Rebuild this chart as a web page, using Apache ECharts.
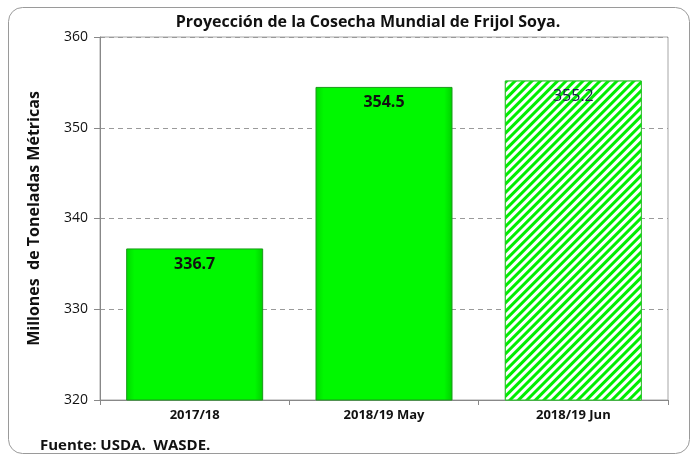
<!DOCTYPE html>
<html>
<head>
<meta charset="utf-8">
<script src="https://cdn.jsdelivr.net/npm/echarts@6/dist/echarts.min.js"></script>
<style>
  html, body { margin: 0; padding: 0; background: #fff; }
  #chart { width: 697px; height: 459px; }
</style>
</head>
<body>
<div id="chart"></div>
<script>
// datos de la cosecha (millones de toneladas)
const categorias = ['2017/18', '2018/19 May', '2018/19 Jun'];
const valores = [336.7, 354.5, 355.2];
const proyectado = [false, false, true];

const FONT = '"Open Sans", "Noto Sans", sans-serif';
const chart = echarts.init(document.getElementById('chart'));

const solido = {
  color: new echarts.graphic.LinearGradient(0, 0, 1, 0, [
    { offset: 0, color: '#00d800' },
    { offset: 0.06, color: '#00f800' },
    { offset: 0.94, color: '#00f800' },
    { offset: 1, color: '#00d000' }
  ]),
  borderColor: '#1a9a1a',
  borderWidth: 1
};
const rayado = {
  color: '#ffffff',
  borderColor: '#2fbf2f',
  borderWidth: 1,
  decal: {
    color: '#00ee00',
    backgroundColor: '#ffffff',
    symbol: 'rect',
    dashArrayX: [1, 0],
    dashArrayY: [3, 3],
    rotation: -Math.PI / 4
  }
};

chart.setOption({
  animation: false,
  title: {
    text: 'Proyección de la Cosecha Mundial de Frijol Soya.',
    left: 363, top: 9, textAlign: 'center',
    textStyle: { fontFamily: FONT, fontSize: 16, fontWeight: 'bold', color: '#111' }
  },
  graphic: [
    {
      type: 'rect',
      shape: { x: 8.5, y: 7.5, width: 681, height: 446, r: 14 },
      style: { fill: 'none', stroke: '#9a9a9a', lineWidth: 1 },
      silent: true
    },
    {
      type: 'text', left: 40, top: 438,
      style: { text: 'Fuente: USDA.  WASDE.', font: 'bold 15px ' + FONT, fill: '#111' }
    }
  ],
  grid: {
    left: 100, right: 29, top: 37, bottom: 59,
    show: true, borderColor: '#a6a6a6', borderWidth: 1
  },
  xAxis: {
    type: 'category',
    data: categorias,
    axisLine: { lineStyle: { color: '#888' } },
    axisTick: { show: true, length: 5, lineStyle: { color: '#888' } },
    axisLabel: { margin: 9, fontFamily: FONT, fontSize: 13, fontWeight: 'bold', color: '#111' }
  },
  yAxis: {
    type: 'value',
    min: 320, max: 360, interval: 10,
    name: 'Millones  de Toneladas Métricas',
    nameLocation: 'middle', nameGap: 58,
    nameTextStyle: { fontFamily: FONT, fontSize: 16, fontWeight: 'bold', color: '#111' },
    axisLine: { show: true, lineStyle: { color: '#888' } },
    axisTick: { show: true, length: 6, lineStyle: { color: '#888' } },
    axisLabel: { margin: 12, fontFamily: FONT, fontSize: 14, color: '#111' },
    splitLine: { lineStyle: { color: '#9a9a9a', type: [5, 4] } }
  },
  series: [{
    type: 'bar',
    barWidth: 137,
    data: valores.map((v, i) => ({
      value: v,
      itemStyle: proyectado[i] ? rayado : solido,
      label: proyectado[i] ? { color: '#1a1a4a', fontWeight: 'normal' } : {}
    })),
    label: {
      show: true, position: 'insideTop', distance: 8,
      fontFamily: FONT, fontSize: 16, fontWeight: 'bold', color: '#111',
      formatter: p => p.value.toFixed(1)
    }
  }]
});
</script>
</body>
</html>
